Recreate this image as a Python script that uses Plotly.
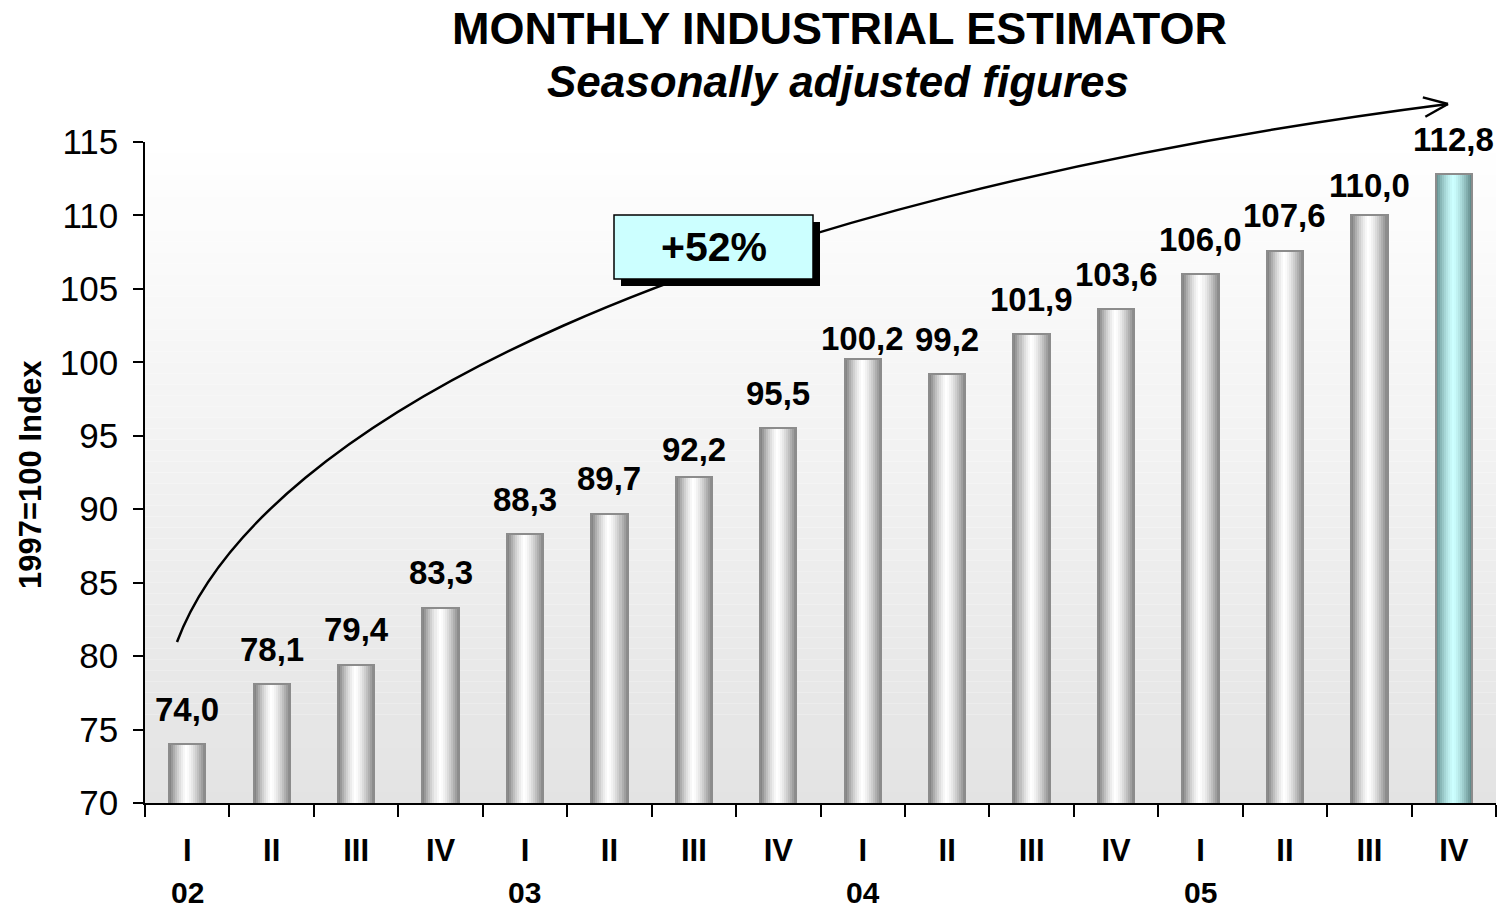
import math
import plotly.graph_objects as go

# ---------------- data ----------------
quarters = ["I", "II", "III", "IV", "I", "II", "III", "IV",
            "I", "II", "III", "IV", "I", "II", "III", "IV"]
years = ["02", "02", "02", "02", "03", "03", "03", "03",
         "04", "04", "04", "04", "05", "05", "05", "05"]
values = [74.0, 78.1, 79.4, 83.3, 88.3, 89.7, 92.2, 95.5,
          100.2, 99.2, 101.9, 103.6, 106.0, 107.6, 110.0, 112.8]
year_labels = ["02", "03", "04", "05"]
growth_text = "+52%"
title_text = "MONTHLY INDUSTRIAL ESTIMATOR"
subtitle_text = "Seasonally adjusted figures"
y_title = "1997=100 Index"

cats = [f"{q} {y}" for q, y in zip(quarters, years)]

# ---------------- style ----------------
FONT = "Arial, Liberation Sans, sans-serif"
OFF = 8  # page body margin
W, H = 1505 - OFF, 908 - OFF
# plot area in screen pixels
SL, SR, ST, SB = 145, 1496, 142, 803
ML, MT = SL - OFF, ST - OFF
MR, MB = W - (SR - OFF), H - (SB - OFF)
PW, PH = SR - SL, SB - ST
BAR_W = 0.43
N_STRIP = 18


def px2x(px):
    return (px - SL) / PW


def py2y(py):
    return (SB - py) / PH


def shade(edge, center, f):
    return "rgb(%d,%d,%d)" % tuple(round(e + (c - e) * f) for e, c in zip(edge, center))


gray_edge_l, gray_edge_r, gray_mid = (122, 122, 122), (132, 132, 132), (255, 255, 255)
cyan_edge_l, cyan_edge_r, cyan_mid = (96, 140, 140), (90, 130, 130), (204, 255, 255)
peak = 0.48

fig = go.Figure()

for i in range(N_STRIP):
    t = (i + 0.5) / N_STRIP
    d = (t - peak) / (peak if t < peak else 1 - peak)
    f = max(0.0, 1 - abs(d) ** 1.4)
    ge = gray_edge_l if t < peak else gray_edge_r
    ce = cyan_edge_l if t < peak else cyan_edge_r
    cols = [shade(ge, gray_mid, f)] * (len(values) - 1) + [shade(ce, cyan_mid, f)]
    fig.add_trace(go.Bar(
        x=cats, y=values,
        width=BAR_W / N_STRIP * 1.25,
        offset=-BAR_W / 2 + i * BAR_W / N_STRIP,
        marker=dict(color=cols, line=dict(width=0)),
        hoverinfo="skip", showlegend=False,
    ))

# outline
fig.add_trace(go.Bar(
    x=cats, y=values, width=BAR_W, offset=-BAR_W / 2,
    marker=dict(color="rgba(0,0,0,0)", line=dict(color="#8c8c8c", width=2)),
    hoverinfo="skip", showlegend=False,
))

shapes = []
# background gradient of plot area
NB = 60
for k in range(NB):
    y0, y1 = k / NB, (k + 1) / NB
    g = round(227 + (255 - 227) * ((k + 0.5) / NB))
    shapes.append(dict(type="rect", xref="paper", yref="paper", x0=0, x1=1, y0=y0, y1=y1,
                       fillcolor=f"rgb({g},{g},{g})", line=dict(width=0), layer="below"))

# curved arrow
P = [(177, 642), (260, 420), (700, 200), (1448, 104)]
path = "M {},{} C {},{} {},{} {},{}".format(*[v for p in P for v in (px2x(p[0]), py2y(p[1]))])
shapes.append(dict(type="path", xref="paper", yref="paper", path=path,
                   line=dict(color="black", width=2.5), layer="above"))
dx, dy = P[2][0] - P[3][0], P[2][1] - P[3][1]
L = math.hypot(dx, dy)
ux, uy = dx / L, dy / L
for ang in (22, -22):
    a = math.radians(ang)
    rx = ux * math.cos(a) - uy * math.sin(a)
    ry = ux * math.sin(a) + uy * math.cos(a)
    ex, ey = P[3][0] + rx * 26, P[3][1] + ry * 26
    shapes.append(dict(type="line", xref="paper", yref="paper",
                       x0=px2x(P[3][0]), y0=py2y(P[3][1]), x1=px2x(ex), y1=py2y(ey),
                       line=dict(color="black", width=2.5), layer="above"))

# +52% box with shadow
bx0, bx1, by0, by1 = 614, 813, 215, 279
shapes.append(dict(type="rect", xref="paper", yref="paper",
                   x0=px2x(bx0 + 7), x1=px2x(bx1 + 7), y0=py2y(by1 + 7), y1=py2y(by0 + 7),
                   fillcolor="black", line=dict(width=0), layer="above"))
shapes.append(dict(type="rect", xref="paper", yref="paper",
                   x0=px2x(bx0), x1=px2x(bx1), y0=py2y(by1), y1=py2y(by0),
                   fillcolor="#ccffff", line=dict(color="black", width=1.5), layer="above"))

annotations = []
# value labels
label_nudge = {6: -8, 8: -14, 14: -5}
for i, (c, v) in enumerate(zip(cats, values)):
    annotations.append(dict(x=c, y=v, xref="x", yref="y", showarrow=False,
                            text=f"{v:.1f}".replace(".", ","), yanchor="middle",
                            yshift=35 + label_nudge.get(i, 0),
                            font=dict(family=FONT, size=33, color="black", weight="bold")))
# year labels
for yl in year_labels:
    idx = years.index(yl)
    annotations.append(dict(x=cats[idx], y=py2y(892), xref="x", yref="paper", showarrow=False,
                            text=yl, yanchor="middle", height=28, borderpad=0,
                            font=dict(family=FONT, size=30, color="black", weight="bold")))
# titles
annotations.append(dict(x=px2x(839), y=py2y(28), xref="paper", yref="paper", showarrow=False,
                        text=title_text, yanchor="middle", xanchor="center", height=36, borderpad=0,
                        font=dict(family=FONT, size=45, color="black", weight="bold")))
annotations.append(dict(x=px2x(838), y=py2y(81), xref="paper", yref="paper", showarrow=False,
                        text=subtitle_text, yanchor="middle", xanchor="center",
                        font=dict(family=FONT, size=44, color="black", weight="bold", style="italic")))
# y title
annotations.append(dict(x=px2x(30), y=py2y(475), xref="paper", yref="paper", showarrow=False,
                        text=y_title, textangle=-90, yanchor="middle", xanchor="center",
                        font=dict(family=FONT, size=31, color="black", weight="bold")))
# box text
annotations.append(dict(x=px2x((bx0 + bx1) / 2), y=py2y((by0 + by1) / 2), xref="paper", yref="paper",
                        showarrow=False, text=growth_text, yanchor="middle", xanchor="center",
                        font=dict(family=FONT, size=41, color="black", weight="bold")))

fig.update_layout(
    width=W, height=H,
    margin=dict(l=ML, r=MR, t=MT, b=MB),
    paper_bgcolor="white", plot_bgcolor="white",
    barmode="overlay", bargap=0,
    showlegend=False,
    shapes=shapes, annotations=annotations,
    font=dict(family=FONT, color="black"),
)
fig.update_xaxes(
    type="category", categoryorder="array", categoryarray=cats,
    tickmode="array", tickvals=cats, ticktext=quarters,
    tickson="boundaries", ticks="outside", ticklen=12, tickwidth=1.5, tickcolor="black",
    showline=True, linecolor="black", linewidth=1.5, showgrid=False, zeroline=False,
    range=[-0.5, len(cats) - 0.5],
    tickfont=dict(family=FONT, size=31, color="black", weight="bold"),
    ticklabelstandoff=19,
)
fig.update_yaxes(
    range=[70, 115], tick0=70, dtick=5,
    ticks="outside", ticklen=10, tickwidth=1.5, tickcolor="black",
    showline=True, linecolor="black", linewidth=1.5, showgrid=False, zeroline=False,
    tickfont=dict(family=FONT, size=35, color="black"),
    ticklabelstandoff=8,
)

fig.write_html("out.html")
